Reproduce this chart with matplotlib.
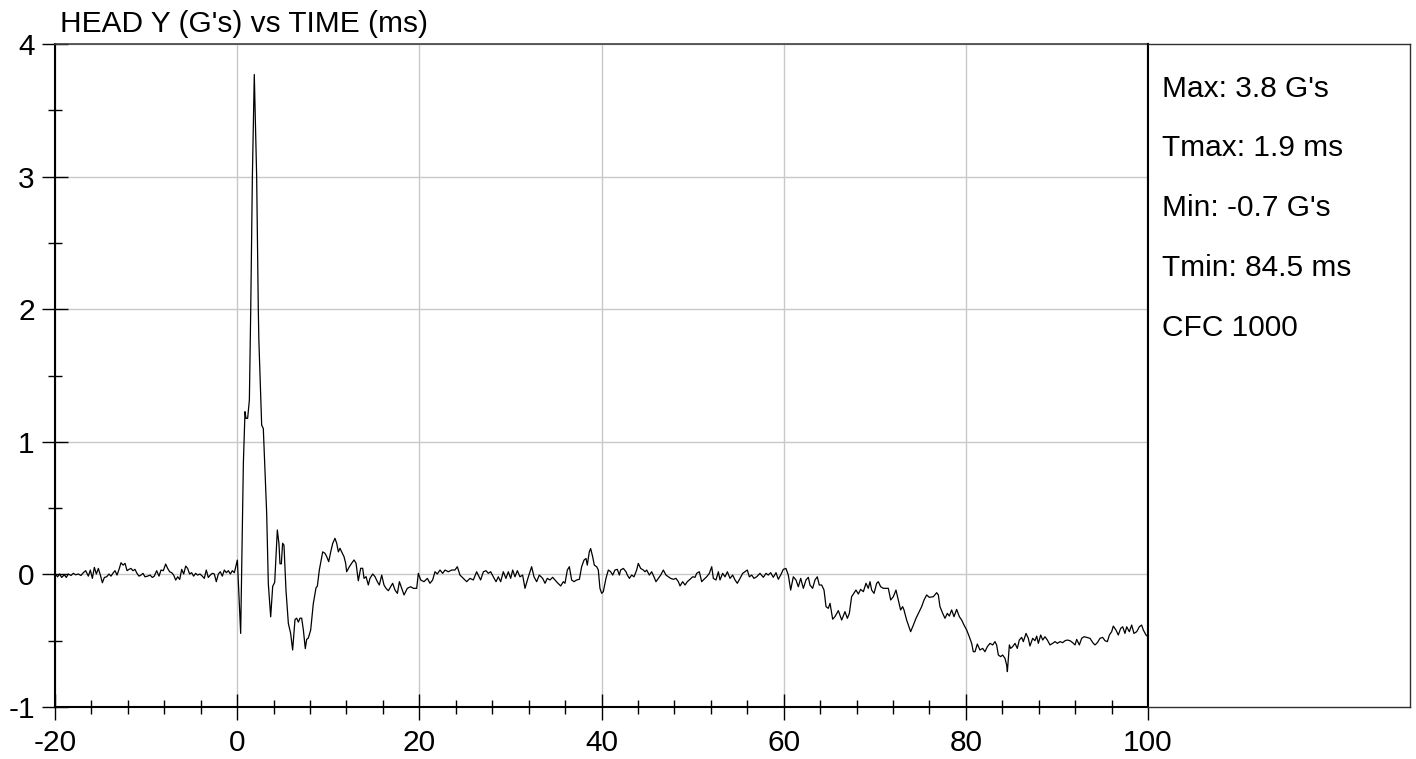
import matplotlib
matplotlib.use("Agg")
import matplotlib.pyplot as plt
from matplotlib.ticker import MultipleLocator

# ---------------- data ----------------
pre_t = [-20.00, -19.71, -19.49, -19.27, -18.98, -18.76, -18.54, -18.24, -17.99, -17.73,
         -17.44, -17.15, -16.89, -16.63, -16.34, -16.12, -15.90, -15.68, -15.46, -15.24,
         -15.02, -14.80, -14.58, -14.33, -14.07, -13.85, -13.60, -13.41, -13.19, -12.97,
         -12.75, -12.53, -12.31, -12.09, -11.88, -11.66, -11.44, -11.22, -11.00, -10.78,
         -10.56, -10.34, -10.12, -9.83, -9.57, -9.31, -9.10, -8.84, -8.58, -8.36,
         -8.11, -7.85, -7.63, -7.41, -7.19, -6.97, -6.75, -6.53, -6.31, -6.09,
         -5.87, -5.65, -5.44, -5.22, -5.00, -4.78, -4.56, -4.34, -4.08, -3.83,
         -3.61, -3.39, -3.17, -2.95, -2.73, -2.51, -2.29, -2.07, -1.85, -1.63,
         -1.41, -1.19, -0.97, -0.75, -0.53, -0.31, -0.09, 0.02]
pre_g = [0.003, -0.018, 0.003, -0.023, -0.003, -0.023, 0.003, -0.008, 0.008, -0.003,
         0.003, -0.008, 0.013, 0.028, -0.013, 0.033, -0.03, 0.053, 0.003, 0.045,
         -0.005, -0.063, -0.023, -0.018, 0.003, -0.013, 0.013, 0.028, -0.005, 0.038,
         0.088, 0.07, 0.083, 0.028, 0.038, 0.045, 0.028, 0.038, 0.008, -0.013,
         -0.005, 0.008, -0.018, -0.013, -0.005, -0.023, -0.013, 0.028, -0.013, 0.033,
         0.028, 0.078, 0.045, 0.02, 0.013, -0.005, -0.043, -0.018, -0.038, 0.038,
         0.003, 0.063, 0.045, 0.003, 0.013, -0.013, 0.008, -0.005, 0.003, -0.013,
         -0.03, 0.033, -0.023, -0.005, 0.008, 0.003, -0.055, 0.003, 0.02, -0.013,
         0.033, 0.013, 0.028, 0.003, 0.028, 0.013, 0.078, 0.108]

impact_t = [0.385, 0.68, 0.86, 0.97, 1.15, 1.34, 1.49, 1.67, 1.88, 2.14,
            2.32, 2.38, 2.69, 2.87, 3.24, 3.42, 3.68, 3.90, 4.12, 4.41,
            4.59, 4.70, 4.85, 4.99, 5.14, 5.36, 5.62, 5.87, 6.09, 6.35,
            6.53, 6.72, 6.90, 7.08, 7.27, 7.48, 7.63, 7.81, 8.07, 8.36,
            8.66, 8.80, 9.02]
impact_g = [-0.445, 0.837, 1.227, 1.177, 1.177, 1.315, 2.0, 3.0, 3.77, 3.0,
            2.0, 1.77, 1.126, 1.10, 0.46, -0.07, -0.32, -0.09, -0.06, 0.335,
            0.23, 0.08, 0.08, 0.235, 0.22, -0.12, -0.37, -0.445, -0.57, -0.34,
            -0.33, -0.36, -0.33, -0.33, -0.42, -0.56, -0.49, -0.48, -0.42, -0.22,
            -0.10, -0.09, 0.033]

rebound_t = [9.39, 9.64, 9.83, 10.05, 10.27, 10.49, 10.74, 10.93, 11.11, 11.29,
             11.47, 11.73, 11.91, 12.02, 12.32, 12.57, 12.83, 13.05, 13.30, 13.56,
             13.78, 13.93, 14.15, 14.40, 14.58, 14.88, 15.13, 15.39, 15.61, 15.87,
             16.12, 16.34, 16.60, 16.85, 17.07, 17.33, 17.59, 17.81]
rebound_g = [0.17, 0.159, 0.134, 0.096, 0.17, 0.234, 0.272, 0.234, 0.17, 0.197,
             0.17, 0.134, 0.084, 0.02, 0.058, 0.084, 0.109, 0.084, -0.048, 0.046,
             0.046, -0.03, -0.017, -0.08, -0.03, 0.003, -0.017, -0.055, -0.08, -0.005,
             -0.08, -0.105, -0.123, -0.093, -0.067, -0.118, -0.143, -0.055]

mid1_t = [18.32, 18.68, 19.05, 19.34, 19.71, 19.89, 20.15, 20.51, 20.88, 21.17,
          21.46, 21.72, 21.97, 22.27, 22.56, 22.82, 23.18, 23.55, 23.91, 24.17,
          24.46, 24.83, 25.20, 25.56, 25.93, 26.29, 26.73, 27.03, 27.32, 27.57,
          27.83, 28.12, 28.42, 28.67, 28.93, 29.22, 29.51, 29.77, 30.03, 30.25,
          30.50, 30.76, 31.05, 31.34, 31.60, 31.97, 32.33, 32.59, 32.88, 33.17,
          33.54, 33.80, 34.05, 34.34, 34.64, 34.89, 35.15, 35.52, 35.81, 35.99,
          36.25, 36.47, 36.72, 36.98, 37.27, 37.57, 37.82, 38.08, 38.30, 38.44,
          38.66, 38.81, 39.03, 39.21, 39.47, 39.65, 39.83]
mid1_g = [-0.155, -0.105, -0.093, -0.105, -0.105, 0.008, -0.042, -0.055, -0.03, -0.067,
          -0.042, 0.02, 0.003, 0.033, 0.008, 0.033, 0.02, 0.033, 0.033, 0.058,
          -0.005, -0.03, -0.055, -0.03, -0.042, 0.02, -0.042, 0.02, 0.028, 0.008,
          0.02, -0.018, -0.055, -0.018, -0.055, 0.02, -0.03, 0.02, -0.03, 0.033,
          -0.018, 0.028, -0.018, -0.005, -0.105, -0.018, 0.058, -0.018, -0.055, -0.005,
          -0.03, -0.067, -0.03, -0.042, -0.022, -0.042, -0.062, -0.087, -0.055, -0.067,
          0.033, 0.058, -0.042, -0.055, -0.042, -0.037, 0.058, 0.108, 0.12, 0.07,
          0.17, 0.195, 0.133, 0.07, 0.058, 0.033, -0.105]

mid2_t = [40.02, 40.20, 40.49, 40.75, 41.01, 41.23, 41.48, 41.74, 41.96, 42.10,
          42.40, 42.69, 42.84, 43.06, 43.31, 43.57, 43.86, 44.04, 44.30, 44.59,
          44.78, 44.96, 45.25, 45.51, 45.76, 45.98, 46.24, 46.50, 46.79, 47.08,
          47.34, 47.59, 47.89, 48.18, 48.44, 48.62, 48.91, 49.17, 49.42, 49.72,
          50.01, 50.27, 50.45, 50.74, 51.00, 51.25, 51.55, 51.84, 52.10, 52.28,
          52.57, 52.83, 53.01, 53.30, 53.56, 53.82, 54.11, 54.40, 54.66, 54.91,
          55.21, 55.50, 55.75, 56.01, 56.23, 56.49, 56.74, 57.04, 57.40]
mid2_g = [-0.143, -0.13, -0.03, 0.033, 0.02, -0.005, 0.033, 0.038, -0.005, 0.033,
          0.045, 0.02, -0.005, -0.03, -0.005, -0.018, 0.033, 0.083, 0.045, 0.033,
          0.02, 0.033, -0.005, 0.02, -0.018, -0.055, -0.03, -0.005, 0.033, -0.005,
          -0.018, -0.03, -0.037, -0.03, -0.055, -0.087, -0.055, -0.08, -0.055, -0.037,
          -0.018, -0.022, 0.008, 0.02, -0.055, -0.037, -0.018, 0.008, 0.058, -0.03,
          -0.042, 0.02, -0.042, 0.008, -0.018, 0.02, -0.03, -0.005, -0.042, -0.067,
          -0.03, 0.008, 0.02, 0.033, -0.018, -0.005, -0.03, -0.018, 0.008]

late1_t = [57.77, 58.06, 58.31, 58.57, 58.86, 59.16, 59.41, 59.67, 59.96, 60.25,
           60.51, 60.77, 61.06, 61.35, 61.61, 61.87, 62.16, 62.45, 62.71, 62.89,
           63.18, 63.44, 63.69, 63.91, 64.17, 64.43, 64.65, 64.90, 65.09, 65.38,
           65.63, 66.00, 66.37, 66.73, 66.99, 67.21, 67.46, 67.65, 67.94, 68.20,
           68.45, 68.75, 69.04, 69.29, 69.48, 69.66, 69.92, 70.21, 70.39, 70.65,
           70.94, 71.23, 71.49, 71.75, 72.04, 72.33, 72.59, 72.84, 73.06, 73.21,
           73.50, 73.94, 74.24, 74.53, 74.89, 75.15, 75.41, 75.70, 75.99, 76.43,
           76.80, 76.98, 77.16, 77.46, 77.71, 77.97, 78.19, 78.44, 78.70, 78.99,
           79.29, 79.54, 79.80]
late1_g = [-0.022, 0.008, -0.005, 0.013, -0.022, 0.013, -0.037, -0.005, 0.038, 0.045,
           -0.005, -0.118, -0.018, -0.042, -0.093, -0.03, -0.105, -0.042, -0.022, -0.08,
           -0.105, -0.042, -0.018, -0.08, -0.08, -0.118, -0.243, -0.256, -0.218, -0.338,
           -0.319, -0.273, -0.344, -0.281, -0.331, -0.294, -0.168, -0.148, -0.118, -0.148,
           -0.113, -0.13, -0.067, -0.105, -0.055, -0.118, -0.143, -0.067, -0.055, -0.093,
           -0.105, -0.105, -0.105, -0.193, -0.168, -0.118, -0.193, -0.268, -0.243, -0.268,
           -0.344, -0.432, -0.382, -0.331, -0.281, -0.243, -0.193, -0.155, -0.173, -0.168,
           -0.138, -0.155, -0.243, -0.294, -0.331, -0.294, -0.314, -0.268, -0.319, -0.264,
           -0.319, -0.344, -0.382]

late2_t = [80.09, 80.38, 80.64, 80.82, 81.01, 81.26, 81.55, 81.85, 82.10, 82.36,
           82.65, 82.95, 83.20, 83.38, 83.57, 83.82, 84.04, 84.30, 84.48, 84.56,
           84.78, 84.92, 85.14, 85.40, 85.65, 85.87, 86.13, 86.31, 86.61, 86.86,
           87.04, 87.34, 87.59, 87.78, 87.96, 88.22, 88.44, 88.69, 88.95, 89.24,
           89.53, 89.79, 90.05, 90.34, 90.63, 90.89, 91.14, 91.44, 91.73, 91.99,
           92.17, 92.46, 92.72, 92.97, 93.27, 93.63, 94.00, 94.18, 94.44, 94.73,
           95.02, 95.28, 95.54, 95.76, 96.01, 96.19, 96.49, 96.74, 97.00, 97.22,
           97.47, 97.66, 97.95, 98.21, 98.46, 98.76, 99.05, 99.30, 99.49, 99.78,
           100.0]
late2_g = [-0.419, -0.47, -0.52, -0.583, -0.583, -0.525, -0.57, -0.558, -0.583, -0.545,
           -0.52, -0.532, -0.507, -0.532, -0.608, -0.62, -0.608, -0.633, -0.683, -0.733,
           -0.532, -0.558, -0.545, -0.52, -0.558, -0.495, -0.475, -0.507, -0.445, -0.482,
           -0.54, -0.482, -0.5, -0.465, -0.52, -0.457, -0.495, -0.47, -0.495, -0.532,
           -0.52, -0.507, -0.52, -0.507, -0.515, -0.5, -0.495, -0.5, -0.515, -0.532,
           -0.49, -0.532, -0.482, -0.47, -0.475, -0.482, -0.52, -0.532, -0.515, -0.482,
           -0.475, -0.5, -0.507, -0.457, -0.432, -0.39, -0.42, -0.457, -0.407, -0.395,
           -0.445, -0.395, -0.432, -0.382, -0.445, -0.432, -0.395, -0.382, -0.42, -0.457,
           -0.47]

x_ticks = [-20, 0, 20, 40, 60, 80, 100]
y_ticks = [-1, 0, 1, 2, 3, 4]
title_text = "HEAD Y (G's) vs TIME (ms)"
stats_lines = ["Max: 3.8 G's", "Tmax: 1.9 ms", "Min: -0.7 G's", "Tmin: 84.5 ms", "CFC 1000"]

segments = [(pre_t, pre_g), (impact_t, impact_g), (rebound_t, rebound_g),
            (mid1_t, mid1_g), (mid2_t, mid2_g), (late1_t, late1_g), (late2_t, late2_g)]
time_ms, head_y = [], []
for ts, gs in segments:
    assert len(ts) == len(gs), (len(ts), len(gs))
    time_ms += ts
    head_y += gs

# ---------------- figure ----------------
plt.rcParams['font.family'] = ['Liberation Sans', 'DejaVu Sans']
FS = 21.5
W, H = 1416, 759
L, R, T, B = 55, 1148, 44, 707
BOX_R = 1410

fig = plt.figure(figsize=(W / 100, H / 100), dpi=100)
ax = fig.add_axes([L / W, 1 - B / H, (R - L) / W, (B - T) / H])
ax.plot(time_ms, head_y, color='black', lw=0.9, zorder=3)
ax.set_xlim(-20, 100)
ax.set_ylim(-1, 4)
ax.set_xticks(x_ticks)
ax.set_yticks(y_ticks)
ax.set_xticklabels([str(v) for v in x_ticks])
ax.set_yticklabels([str(v) for v in y_ticks])
ax.xaxis.set_minor_locator(MultipleLocator(4))
ax.yaxis.set_minor_locator(MultipleLocator(0.5))
ax.tick_params(which='major', direction='inout', length=19, width=1.0,
               pad=5, labelsize=FS, colors='black')
ax.tick_params(axis='x', which='major', pad=6.5)
ax.tick_params(which='minor', direction='inout', length=10, width=1.0)
ax.grid(True, which='major', color='#c8c8c8', lw=1.0, zorder=0)
ax.set_axisbelow(True)
for side in ['left', 'bottom', 'right']:
    ax.spines[side].set_color('black')
    ax.spines[side].set_linewidth(1.5)
ax.spines['top'].set_color('#404040')
ax.spines['top'].set_linewidth(1.2)

# stats box
box = fig.add_axes([R / W, 1 - B / H, (BOX_R - R) / W, (B - T) / H])
box.set_xticks([])
box.set_yticks([])
for side in box.spines:
    box.spines[side].set_color('#303030')
    box.spines[side].set_linewidth(1.0)
box.spines['left'].set_color('black')
box.spines['left'].set_linewidth(1.5)

baselines = [97, 156, 216, 276, 336]
for s, yb in zip(stats_lines, baselines):
    fig.text(1162 / W, 1 - yb / H, s, ha='left', va='baseline', fontsize=FS)

fig.text(60 / W, 1 - 32 / H, title_text, ha='left', va='baseline', fontsize=FS)

fig.savefig('out.png', dpi=100)
